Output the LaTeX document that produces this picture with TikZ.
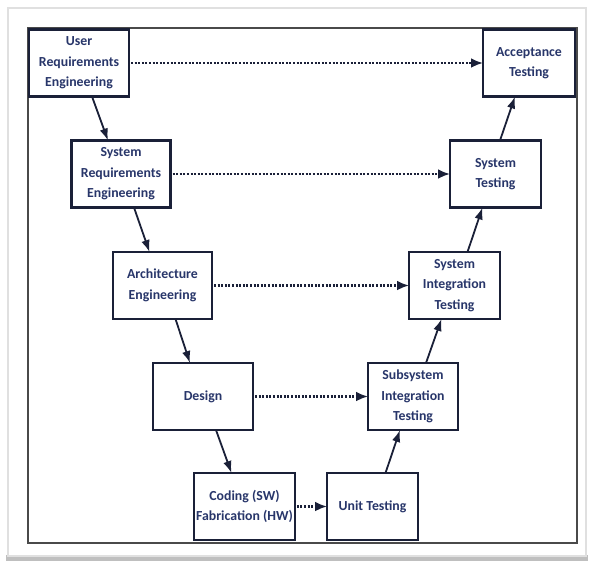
\documentclass[tikz,border=0pt]{standalone}
\usepackage{fontspec}
\setmainfont{Carlito}
\usetikzlibrary{arrows.meta}
\definecolor{ink}{HTML}{1A2038}
\definecolor{txt}{HTML}{28366A}
\definecolor{frame}{HTML}{4A4A4A}
\begin{document}
\begin{tikzpicture}[x=1pt,y=-1pt,
  stage/.style={draw=ink, line width=2.2pt, fill=white, inner sep=2pt, outer sep=0pt,
    minimum height=67, align=center, text=txt,
    font=\fontsize{13.8}{20.5}\selectfont\bfseries},
  flow/.style={draw=ink, line width=1.8pt, -{Latex[length=12pt,width=8.5pt]}},
  link/.style={draw=ink, line width=2.4pt, dash pattern=on 2pt off 1.6pt,
    shorten <=2pt, -{Latex[length=12pt,width=10pt]}}]
\useasboundingbox (0,0) rectangle (589,563);
% page and its shadow
\fill[white] (0,0) rectangle (589,563);
\fill[black!25] (6,555) rectangle (588,561);
\draw[black!12, line width=1.5pt, fill=white] (8,8) rectangle (586,556);
% inner frame
\draw[frame, line width=2.4pt] (28,28) rectangle (577,543);
% left branch
\node[stage, minimum width=100] (ure) at (79,63) {User\\Requirements\\Engineering};
\node[stage, minimum width=99] (sre) at (121,174) {System\\Requirements\\Engineering};
\node[stage, minimum width=99] (are) at (162.5,285.5) {Architecture\\Engineering};
\node[stage, minimum width=100] (des) at (203,396.5) {Design};
\node[stage, minimum width=99] (cod) at (244.5,506.5) {Coding (SW)\\Fabrication (HW)};
% right branch
\node[stage, minimum width=91] (unt) at (372.5,506.5) {Unit Testing};
\node[stage, minimum width=90] (sit) at (413,396.5) {Subsystem\\Integration\\Testing};
\node[stage, minimum width=91] (yit) at (454.5,285.5) {System\\Integration\\Testing};
\node[stage, minimum width=91] (syt) at (495.5,174) {System\\Testing};
\node[stage, minimum width=92] (act) at (529,63) {Acceptance\\Testing};
% descending steps
\draw[flow] ([xshift=13]ure.south) -- ([xshift=-13]sre.north);
\draw[flow] ([xshift=13]sre.south) -- ([xshift=-13]are.north);
\draw[flow] ([xshift=13]are.south) -- ([xshift=-13]des.north);
\draw[flow] ([xshift=13]des.south) -- ([xshift=-13]cod.north);
% ascending steps
\draw[flow] ([xshift=13]unt.north) -- ([xshift=-13]sit.south);
\draw[flow] ([xshift=13]sit.north) -- ([xshift=-13]yit.south);
\draw[flow] ([xshift=13]yit.north) -- ([xshift=-13]syt.south);
\draw[flow] ([xshift=4.5]syt.north) -- ([xshift=-14]act.south);
% verification links
\draw[link] (ure.east) -- (act.west);
\draw[link] (sre.east) -- (syt.west);
\draw[link] (are.east) -- (yit.west);
\draw[link] (des.east) -- (sit.west);
\draw[link] (cod.east) -- (unt.west);
\end{tikzpicture}
\end{document}
